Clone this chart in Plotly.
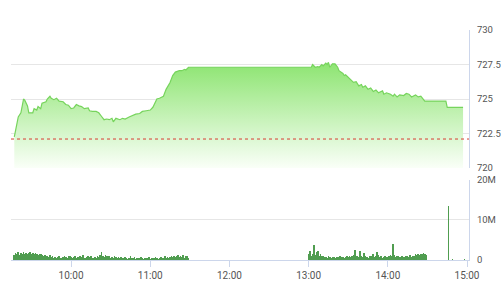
import plotly.graph_objects as go
import pandas as pd

DAY = "2018-06-01 "

# Index line (time HH:MM, value)
price_times = [
    "09:17", "09:19", "09:20", "09:22", "09:24", "09:25", "09:27", "09:28", "09:31", "09:32",
    "09:34", "09:35", "09:37", "09:38", "09:41", "09:42", "09:44", "09:45", "09:47", "09:49",
    "09:51", "09:54", "09:56", "09:58", "10:00", "10:02", "10:04", "10:06", "10:08", "10:10",
    "10:13", "10:14", "10:16", "10:19", "10:21", "10:23", "10:25", "10:27", "10:29", "10:31",
    "10:32", "10:34", "10:37", "10:39", "10:41", "10:44", "10:46", "10:49", "10:52", "10:54",
    "10:57", "11:00", "11:02", "11:05", "11:07", "11:10", "11:12", "11:15", "11:17", "11:19",
    "11:22", "11:24", "11:26", "11:27", "11:29", "11:30", "13:00", "13:02", "13:03", "13:05",
    "13:07", "13:08", "13:10", "13:11", "13:13", "13:14", "13:15", "13:16", "13:18", "13:20",
    "13:22", "13:23", "13:26", "13:27", "13:28", "13:31", "13:33", "13:34", "13:36", "13:38",
    "13:40", "13:41", "13:43", "13:45", "13:47", "13:49", "13:51", "13:53", "13:56", "13:57",
    "13:59", "14:02", "14:04", "14:05", "14:07", "14:09", "14:12", "14:14", "14:16", "14:18",
    "14:21", "14:23", "14:25", "14:27", "14:28", "14:30", "14:44", "14:45", "14:57",
]
price_values = [
    722.25, 723.2, 723.7, 724.0, 725.0, 724.9, 724.5, 724.0, 724.0, 724.3,
    724.2, 724.45, 724.3, 724.7, 724.8, 725.0, 725.2, 725.05, 724.95, 725.05,
    724.85, 724.8, 724.6, 724.55, 724.3, 724.35, 724.6, 724.5, 724.45, 724.3,
    724.35, 724.15, 724.1, 724.1, 724.0, 723.75, 723.5, 723.55, 723.5, 723.6,
    723.35, 723.6, 723.5, 723.6, 723.55, 723.7, 723.8, 723.9, 723.95, 724.1,
    724.15, 724.2, 724.4, 725.0, 725.05, 725.2, 725.7, 726.2, 726.7, 726.95,
    727.05, 727.05, 727.15, 727.1, 727.3, 727.3, 727.3, 727.3, 727.5, 727.3,
    727.35, 727.3, 727.5, 727.4, 727.6, 727.5, 727.65, 727.3, 727.55, 727.55,
    727.3, 727.05, 726.85, 726.7, 726.75, 726.5, 726.35, 726.2, 726.25, 725.95,
    726.05, 725.85, 725.95, 725.7, 725.8, 725.55, 725.65, 725.45, 725.6, 725.35,
    725.45, 725.35, 725.2, 725.35, 725.15, 725.3, 725.25, 725.4, 725.35, 725.15,
    725.3, 725.15, 725.2, 724.95, 724.85, 724.85, 724.85, 724.4, 724.4,
]
reference_value = 722.1

# Volume (millions), one bar per minute
morning_start = "09:17"
morning_volume = [
    1.2, 1.8, 1.5, 1.9, 1.3, 1.7, 1.6, 1.9, 1.4, 1.8, 1.5, 1.7, 1.9, 1.6, 1.8, 1.4, 1.7, 1.5, 1.3, 1.6,
    1.4, 1.2, 1.0, 1.3, 0.9, 1.1, 0.8, 1.2, 0.7, 0.9, 0.6, 0.8, 0.5, 0.7, 0.9, 0.6, 0.4, 0.8, 1.0, 0.7,
    0.6, 0.9, 1.1, 0.8, 0.5, 0.7, 1.0, 0.6, 0.8, 0.4, 0.9, 0.7, 1.2, 0.6, 0.5, 0.8, 1.0, 0.7, 0.9, 0.6,
    0.5, 0.8, 0.6, 1.0, 0.7, 1.2, 1.9, 1.1, 0.8, 1.3, 0.9, 0.7, 1.0, 0.6, 0.8, 0.5, 0.9, 0.7, 0.6, 0.8,
    0.5, 0.7, 0.4, 0.6, 0.8, 0.5, 0.3, 0.6, 0.9, 0.4, 0.5, 0.7, 0.3, 0.6, 0.4, 0.5, 0.8, 0.4, 0.3, 0.6,
    0.5, 0.4, 0.7, 0.3, 0.5, 0.6, 0.4, 0.8, 0.5, 0.3, 0.6, 0.7, 0.4, 0.5, 0.9, 0.6, 0.7, 0.5, 0.8, 1.0,
    0.7, 1.1, 0.8, 0.9, 1.2, 0.7, 1.0, 0.8, 1.3, 0.6, 0.9, 1.1, 0.5,
]
afternoon_start = "13:00"
afternoon_volume = [
    1.6, 2.2, 0.9, 1.4, 3.8, 1.2, 2.0, 2.3, 1.0, 1.4,
    0.9, 1.1, 0.7, 0.8, 0.6, 0.9, 0.7, 0.6, 0.8, 0.7,
    0.6, 0.8, 0.7, 0.6, 0.9, 0.7, 0.8, 0.6, 0.7, 0.9,
    0.8, 1.0, 0.7, 0.9, 1.2, 2.6, 0.9, 1.1, 0.8, 2.3,
    0.9, 0.7, 1.8, 1.1, 0.8, 0.6, 1.0, 0.9, 0.7, 1.6,
    0.8, 1.0, 2.1, 1.2, 0.7, 0.9, 0.6, 0.8, 0.9, 0.7,
    0.8, 1.1, 1.3, 0.9, 4.0, 1.2, 0.7, 0.9, 1.0, 0.8,
    0.7, 1.0, 0.8, 0.6, 1.1, 0.9, 0.7, 1.2, 0.8, 1.0,
    1.1, 1.4, 1.2, 1.5, 1.3, 1.6, 1.4, 1.7, 1.5, 1.2,
]
close_times = ["14:46", "14:49", "14:58"]
close_volume = [13.6, 0.2, 0.2]

x_tick_labels = ["10:00", "11:00", "12:00", "13:00", "14:00", "15:00"]
price_ticks = [720, 722.5, 725, 727.5, 730]
price_tick_text = ["720", "722.5", "725", "727.5", "730"]
volume_ticks = [0, 10, 20]
volume_tick_text = ["0", "10M", "20M"]

# ---- build ----
p_x = [pd.Timestamp(DAY + t) for t in price_times]
vm_x = list(pd.date_range(DAY + morning_start, periods=len(morning_volume), freq="min"))
va_x = list(pd.date_range(DAY + afternoon_start, periods=len(afternoon_volume), freq="min"))
vc_x = [pd.Timestamp(DAY + t) for t in close_times]
vol_x = vm_x + va_x + vc_x
vol_y = morning_volume + afternoon_volume + close_volume

fig = go.Figure()
fig.add_trace(go.Scatter(
    x=p_x, y=price_values, mode="lines",
    line=dict(color="rgb(118,212,92)", width=1.2),
    fill="tozeroy",
    fillgradient=dict(type="vertical", start=720, stop=727.7,
                      colorscale=[[0, "rgb(250,255,248)"], [1, "rgb(140,228,112)"]]),
    yaxis="y", hoverinfo="skip", showlegend=False,
))
fig.add_trace(go.Bar(
    x=vol_x, y=vol_y, width=32000,
    marker=dict(color="rgb(50,140,50)", line=dict(width=0)),
    opacity=0.85,
    yaxis="y2", showlegend=False,
))

fig.add_shape(type="line", xref="paper", x0=0, x1=1, yref="y", y0=reference_value, y1=reference_value,
              line=dict(color="rgb(215,60,50)", width=1, dash="dot"))

font = dict(family="Roboto, Arial, sans-serif", size=10, color="#555")
fig.update_layout(
    width=501, height=300,
    margin=dict(l=11, r=32, t=30, b=40),
    paper_bgcolor="white", plot_bgcolor="white",
    font=font, bargap=0,
    xaxis=dict(
        type="date", anchor="y2",
        range=[DAY + "09:14:30", DAY + "15:01:30"],
        tickvals=[pd.Timestamp(DAY + t) for t in x_tick_labels],
        ticktext=x_tick_labels,
        showgrid=False, zeroline=False,
        showline=True, linecolor="#ccd6eb", linewidth=1,
        ticks="outside", ticklen=6, tickcolor="#ccd6eb",
        automargin=False,
    ),
    yaxis=dict(
        domain=[0.4, 1.0], side="right", range=[720, 730],
        tickvals=price_ticks, ticktext=price_tick_text,
        showgrid=True, gridcolor="#e6e6e6", zeroline=False,
        showline=True, linecolor="#ccd6eb", linewidth=1,
        ticks="outside", ticklen=5, tickcolor="rgba(0,0,0,0)",
        tickfont=dict(family="Roboto, Arial, sans-serif", size=9.5, color="#555"),
        automargin=False,
    ),
    yaxis2=dict(
        domain=[0, 0.348], side="right", range=[0, 20],
        tickvals=volume_ticks, ticktext=volume_tick_text,
        showgrid=True, gridcolor="#e6e6e6", zeroline=False,
        showline=True, linecolor="#ccd6eb", linewidth=1,
        ticks="outside", ticklen=5, tickcolor="rgba(0,0,0,0)",
        tickfont=dict(family="Roboto, Arial, sans-serif", size=9.5, color="#555"),
        automargin=False,
    ),
)

fig.write_html("out.html")
